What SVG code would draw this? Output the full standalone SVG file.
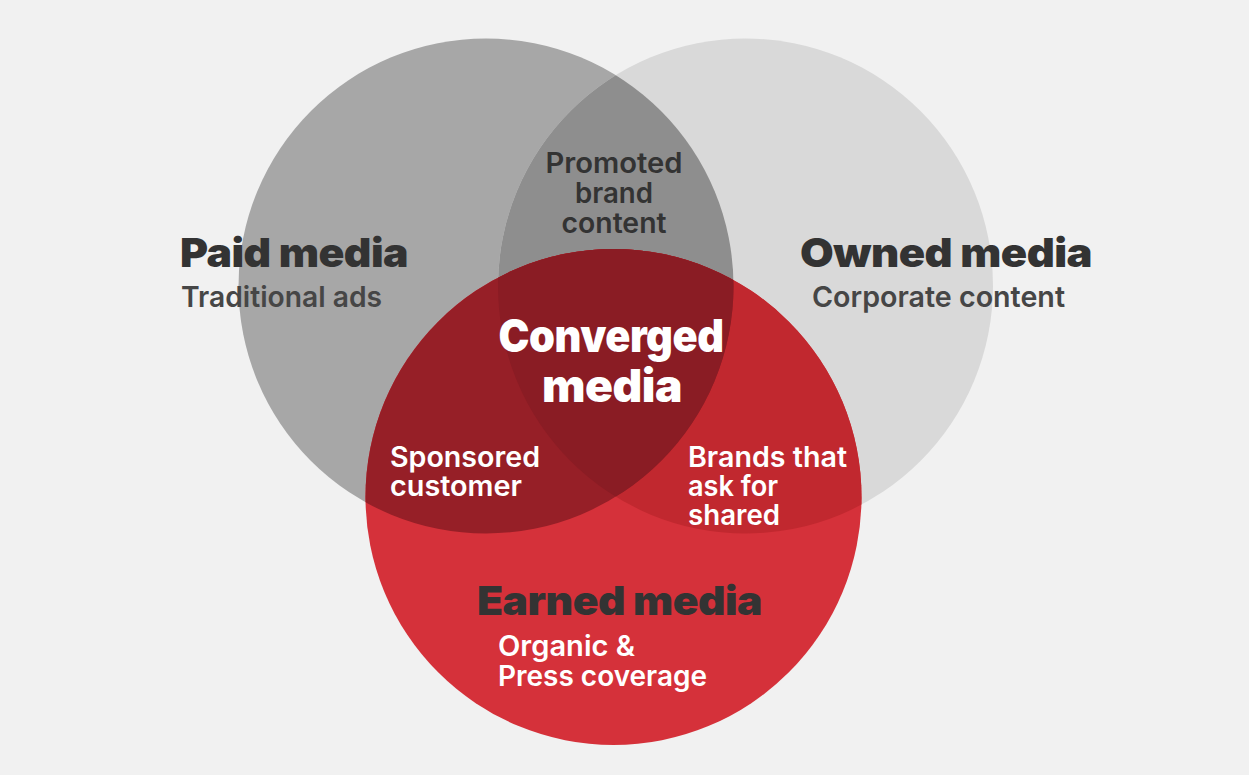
<svg xmlns="http://www.w3.org/2000/svg" width="1249" height="775" viewBox="0 0 1249 775">
<style>
.t{font-family:Inter,"Liberation Sans",sans-serif;}
.title{font-size:40px;font-weight:900;fill:#333333;letter-spacing:-0.5px;}
.sub{font-size:29px;font-weight:600;fill:#464646;}
.dark{font-size:28px;font-weight:600;fill:#333333;}
.white{font-size:28px;font-weight:600;fill:#ffffff;}
.wtitle{font-size:45px;font-weight:900;fill:#ffffff;letter-spacing:-0.5px;}
</style>
<defs>
<clipPath id="cPaid"><circle cx="486" cy="286" r="247.5"/></clipPath>
<clipPath id="cOwned"><circle cx="745.5" cy="286" r="247.5"/></clipPath>
<clipPath id="cEarned"><circle cx="613.5" cy="497" r="248"/></clipPath>
</defs>
<rect width="1249" height="775" fill="#f1f1f1"/>
<g id="paid">
<circle cx="486" cy="286" r="247.5" fill="#a7a7a7"/>
</g>
<g id="owned">
<circle cx="745.5" cy="286" r="247.5" fill="#d9d9d9"/>
</g>
<g id="paid-owned">
<circle cx="745.5" cy="286" r="247.5" fill="#8e8e8e" clip-path="url(#cPaid)"/>
</g>
<g id="earned">
<circle cx="613.5" cy="497" r="248" fill="#d5313a"/>
</g>
<g id="owned-earned">
<circle cx="745.5" cy="286" r="247.5" fill="#c1282f" clip-path="url(#cEarned)"/>
</g>
<g id="paid-earned">
<circle cx="486" cy="286" r="247.5" fill="#961f27" clip-path="url(#cEarned)"/>
</g>
<g id="converged">
<g clip-path="url(#cEarned)"><circle cx="745.5" cy="286" r="247.5" fill="#8a1c24" clip-path="url(#cPaid)"/></g>
</g>
<g id="labels">
<text class="t title" x="180" y="267" textLength="228" lengthAdjust="spacingAndGlyphs">Paid media</text>
<text class="t sub" x="181" y="307" textLength="201" lengthAdjust="spacingAndGlyphs">Traditional ads</text>
<text class="t title" x="800" y="267" textLength="292" lengthAdjust="spacingAndGlyphs">Owned media</text>
<text class="t sub" x="812" y="307" textLength="253" lengthAdjust="spacingAndGlyphs">Corporate content</text>
<text class="t dark" text-anchor="middle"><tspan x="614" y="173" textLength="137" lengthAdjust="spacingAndGlyphs">Promoted</tspan><tspan x="614" y="203" textLength="78" lengthAdjust="spacingAndGlyphs">brand</tspan><tspan x="614" y="233" textLength="105" lengthAdjust="spacingAndGlyphs">content</tspan></text>
<text class="t wtitle" text-anchor="middle"><tspan x="611" y="352" textLength="225" lengthAdjust="spacingAndGlyphs">Converged</tspan><tspan x="612" y="402" textLength="140" lengthAdjust="spacingAndGlyphs">media</tspan></text>
<text class="t white"><tspan x="390" y="467" textLength="150" lengthAdjust="spacingAndGlyphs">Sponsored</tspan><tspan x="390" y="496" textLength="132" lengthAdjust="spacingAndGlyphs">customer</tspan></text>
<text class="t white"><tspan x="688" y="467" textLength="159" lengthAdjust="spacingAndGlyphs">Brands that</tspan><tspan x="688" y="496" textLength="90" lengthAdjust="spacingAndGlyphs">ask for</tspan><tspan x="688" y="525" textLength="92" lengthAdjust="spacingAndGlyphs">shared</tspan></text>
<text class="t title" x="477" y="615" textLength="285" lengthAdjust="spacingAndGlyphs">Earned media</text>
<text class="t white"><tspan x="498" y="656" textLength="137" lengthAdjust="spacingAndGlyphs">Organic &amp;</tspan><tspan x="498" y="686" textLength="209" lengthAdjust="spacingAndGlyphs">Press coverage</tspan></text>
</g>
</svg>
